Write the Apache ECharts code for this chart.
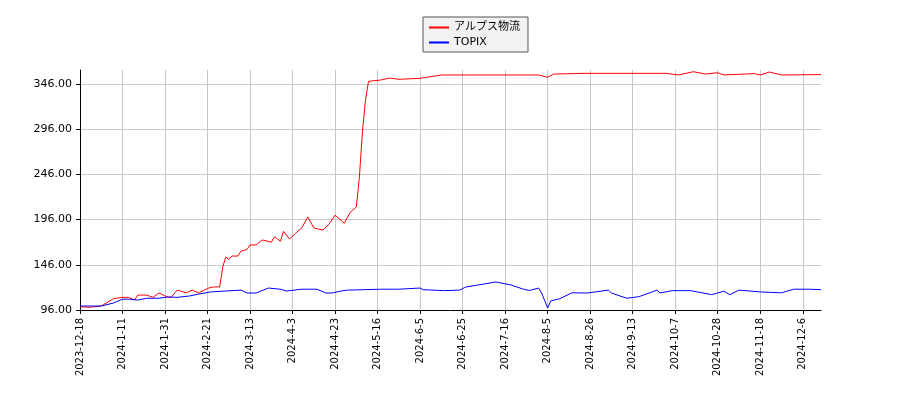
<!DOCTYPE html>
<html>
<head>
<meta charset="utf-8">
<script src="https://cdn.jsdelivr.net/npm/echarts@6/dist/echarts.min.js"></script>
<style>html,body{margin:0;padding:0;background:#fff}#main{width:900px;height:400px}</style>
</head>
<body>
<div id="main"></div>
<script>
// 横軸: 営業日インデックス（14営業日ごとに目盛）
var tickLabels = ['2023-12-18','2024-1-11','2024-1-31','2024-2-21','2024-3-13','2024-4-3','2024-4-23','2024-5-16','2024-6-5','2024-6-25','2024-7-16','2024-8-5','2024-8-26','2024-9-13','2024-10-7','2024-10-28','2024-11-18','2024-12-6'];

// アルプス物流 [営業日idx, 値]
var alpsIdx = [0,3,7,11,14,16,18,19,22,24,26,29,30,32,35,37,39,41,42,44,46,47,48,49,50,52,53,55,56,58,60,63,64,66,67,69,71,73,75,77,80,82,84,87,89,91,92,93,94,95,99,102,105,112,119,127,151,154,156,166,193,197,202,206,210,212,222,224,227,231,244];
var alpsVal = [99.7,99,100.4,108.5,110,110,107,112.5,112.5,110,114.8,110,110,118,115,118,115,118,120,121.5,121.5,143.6,154.6,152,155.7,155.7,161,163,168,168,173.5,171,177,172,183,174.5,181,186.7,199,186.7,184.5,191,201,192,204,210,243,293,328,349,350.4,352.6,351.2,352.3,356,356,356,353.4,357,357.8,357.8,356,359.6,357,358.5,356,357.5,356,359.3,356,356.4];

// TOPIX（比較用に換算）
var topixIdx = [0,7,11,14,16,19,22,26,29,32,36,39,43,48,53,55,58,62,66,68,73,78,81,83,86,88,99,105,112,113,120,125,127,137,142,146,148,151,152,154,155,158,162,167,174,175,180,184,190,191,195,201,208,212,214,217,224,231,235,240,244];
var topixVal = [100.4,100.4,103.7,108,108,107,109,109,110.4,110,111.5,113.5,116,117,118,114.8,114.8,120.3,119,117,119,119,114.8,114.8,117,118,119,119,120.3,118.5,117.4,118,121.4,127,123.6,119,117.6,120.3,114.8,98.2,106,108.5,115,114.8,118,114.8,109,110.7,118,114.8,117.4,117.4,113,116.7,113,118,116,115,119,119,118.5];

function pairs(a, b) {
  return a.map(function (x, i) { return [x, b[i]]; });
}

var chart = echarts.init(document.getElementById('main'));
chart.setOption({
  animation: false,
  textStyle: { fontFamily: 'DejaVu Sans' },
  legend: {
    data: ['アルプス物流', 'TOPIX'],
    orient: 'vertical',
    left: 423,
    top: 17,
    padding: [5, 8, 4, 6],
    itemGap: 4,
    itemWidth: 20,
    itemHeight: 2,
    icon: 'rect',
    backgroundColor: '#f2f2f2',
    borderColor: '#555',
    borderWidth: 1,
    borderRadius: 0,
    textStyle: { fontSize: 11, color: '#000', fontFamily: 'DejaVu Sans, Noto Sans CJK JP' }
  },
  grid: { left: 80, right: 79, top: 70, bottom: 90 },
  xAxis: {
    type: 'value',
    min: 0,
    max: 244,
    interval: 14,
    axisLine: { show: true, onZero: false, lineStyle: { color: '#000' } },
    axisTick: { show: true, length: 4, lineStyle: { color: '#000' } },
    axisLabel: {
      rotate: 90,
      fontSize: 10,
      color: '#000',
      showMaxLabel: false,
      formatter: function (v) { return tickLabels[Math.round(v / 14)] || ''; }
    },
    splitLine: { show: true, showMinLine: false, showMaxLine: false, lineStyle: { color: '#c8c8c8' } }
  },
  yAxis: {
    type: 'value',
    min: 96,
    max: 361.5,
    interval: 50,
    axisLine: { show: true, lineStyle: { color: '#000' } },
    axisTick: { show: true, length: 4, lineStyle: { color: '#000' } },
    axisLabel: {
      fontSize: 11,
      color: '#000',
      showMaxLabel: false,
      formatter: function (v) { return v.toFixed(2); }
    },
    splitLine: { show: true, showMinLine: false, showMaxLine: false, lineStyle: { color: '#c8c8c8' } }
  },
  series: [
    {
      name: 'アルプス物流',
      type: 'line',
      data: pairs(alpsIdx, alpsVal),
      showSymbol: false,
      color: '#ff0000',
      lineStyle: { width: 1 }
    },
    {
      name: 'TOPIX',
      type: 'line',
      data: pairs(topixIdx, topixVal),
      showSymbol: false,
      color: '#0000ff',
      lineStyle: { width: 1 }
    }
  ]
});
</script>
</body>
</html>
